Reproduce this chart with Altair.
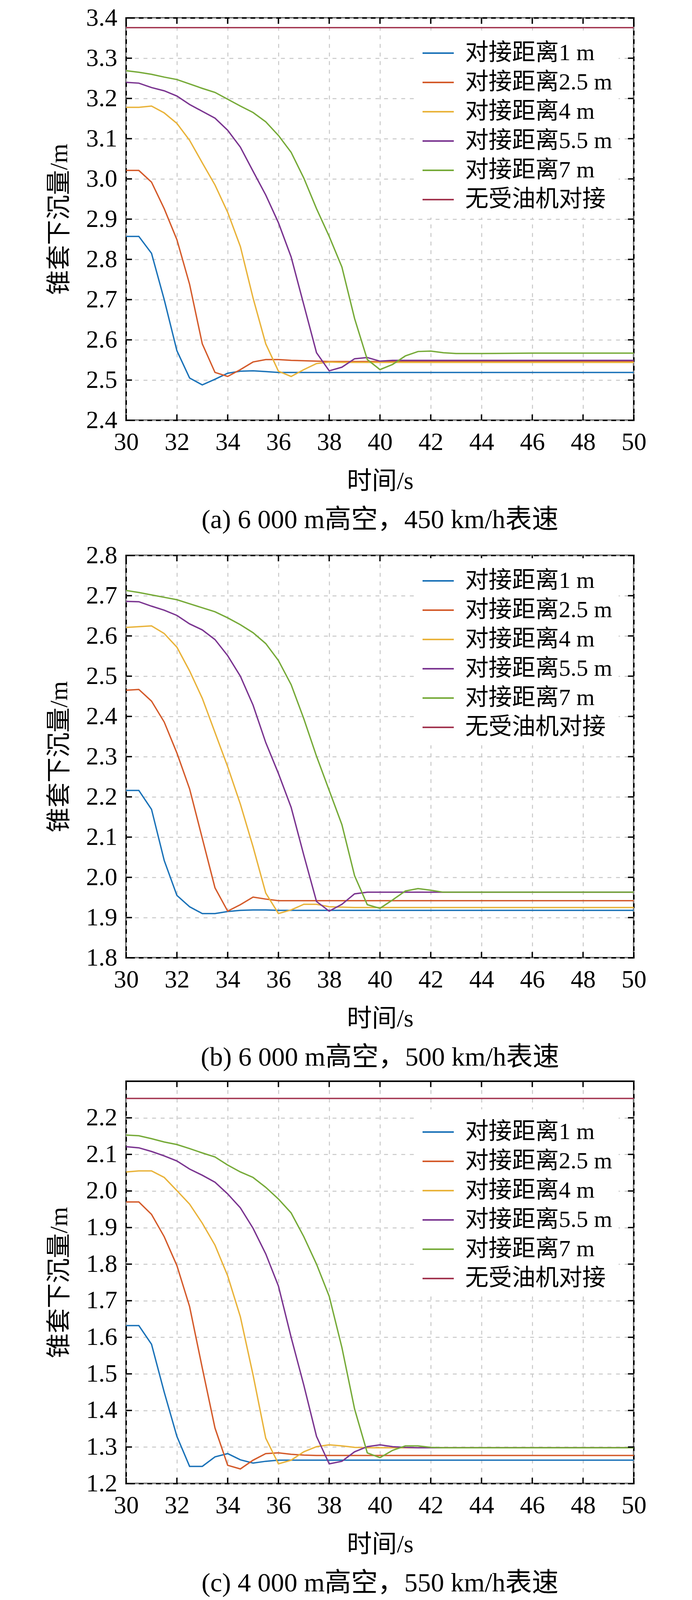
import altair as alt
import pandas as pd

# time samples (s)
T = [30, 30.5, 31, 31.5, 32, 32.5, 33, 33.5, 34, 34.5, 35, 35.5, 36, 36.5, 37, 37.5,
     38, 38.5, 39, 39.5, 40, 40.5, 41, 41.5, 42, 42.5, 43, 44, 46, 48, 50]

SERIES = ["对接距离1 m", "对接距离2.5 m", "对接距离4 m", "对接距离5.5 m", "对接距离7 m", "无受油机对接"]
COLORS = ["#1A72B8", "#D45A2A", "#E9B33A", "#7A3490", "#76AA38", "#A2344F"]
XTICKS = [30, 32, 34, 36, 38, 40, 42, 44, 46, 48, 50]

# (a) 6 000 m, 450 km/h
A1 = [2.857, 2.857, 2.815, 2.700, 2.573, 2.505, 2.488, 2.502, 2.517, 2.522, 2.523, 2.521,
      2.519, 2.519, 2.519, 2.519, 2.519, 2.519, 2.519, 2.519, 2.519, 2.519,
      2.519, 2.519, 2.519, 2.519, 2.519, 2.519, 2.519, 2.519, 2.519]
A2 = [3.021, 3.021, 2.992, 2.926, 2.849, 2.738, 2.590, 2.519, 2.509, 2.526, 2.545, 2.551,
      2.551, 2.549, 2.548, 2.547, 2.546, 2.546, 2.546, 2.546, 2.546, 2.546, 2.546, 2.546,
      2.546, 2.546, 2.546, 2.546, 2.546, 2.546, 2.546]
A3 = [3.178, 3.178, 3.181, 3.164, 3.138, 3.096, 3.040, 2.985, 2.917, 2.832, 2.704, 2.590,
      2.522, 2.509, 2.526, 2.541, 2.545, 2.544, 2.544, 2.544, 2.544, 2.544, 2.544, 2.544,
      2.544, 2.544, 2.544, 2.544, 2.544, 2.544, 2.544]
A4 = [3.240, 3.238, 3.227, 3.219, 3.206, 3.185, 3.168, 3.151, 3.121, 3.079, 3.019, 2.960,
      2.891, 2.806, 2.687, 2.568, 2.523, 2.532, 2.553, 2.556, 2.547, 2.549, 2.549, 2.549,
      2.549, 2.549, 2.549, 2.549, 2.549, 2.549, 2.549]
A5 = [3.269, 3.265, 3.260, 3.253, 3.247, 3.236, 3.225, 3.215, 3.198, 3.181, 3.165, 3.142,
      3.108, 3.066, 3.002, 2.926, 2.857, 2.781, 2.653, 2.551, 2.526, 2.539, 2.560, 2.571,
      2.572, 2.568, 2.566, 2.566, 2.567, 2.567, 2.567]
RED_T = [30, 50]
RED_A = [3.376, 3.376]

# (b) 6 000 m, 500 km/h
B1 = [2.216, 2.216, 2.169, 2.042, 1.955, 1.927, 1.910, 1.910, 1.915, 1.918, 1.919, 1.919,
      1.918, 1.918, 1.918, 1.918, 1.918, 1.918, 1.918, 1.918, 1.918, 1.918, 1.918, 1.918,
      1.918, 1.918, 1.918, 1.918, 1.918, 1.918, 1.918]
B2 = [2.465, 2.467, 2.438, 2.386, 2.309, 2.220, 2.097, 1.974, 1.916, 1.932, 1.951, 1.946,
      1.942, 1.942, 1.942, 1.942, 1.942, 1.942, 1.942, 1.942, 1.942, 1.942, 1.942, 1.942,
      1.942, 1.942, 1.942, 1.942, 1.942, 1.942, 1.942]
B3 = [2.621, 2.623, 2.625, 2.606, 2.572, 2.513, 2.445, 2.360, 2.275, 2.182, 2.076, 1.961,
      1.910, 1.919, 1.933, 1.933, 1.927, 1.926, 1.925, 1.925, 1.925, 1.925, 1.925, 1.925,
      1.925, 1.925, 1.925, 1.925, 1.925, 1.925, 1.925]
B4 = [2.686, 2.685, 2.674, 2.664, 2.651, 2.630, 2.615, 2.591, 2.551, 2.500, 2.428, 2.335,
      2.258, 2.174, 2.055, 1.940, 1.916, 1.933, 1.959, 1.963, 1.963, 1.963, 1.963, 1.963,
      1.963, 1.963, 1.963, 1.963, 1.963, 1.963, 1.963]
B5 = [2.713, 2.708, 2.702, 2.696, 2.690, 2.680, 2.670, 2.660, 2.645, 2.628, 2.608, 2.581,
      2.539, 2.479, 2.394, 2.301, 2.216, 2.131, 2.004, 1.932, 1.923, 1.944, 1.966, 1.972,
      1.968, 1.963, 1.963, 1.963, 1.963, 1.963, 1.963]

# (c) 4 000 m, 550 km/h
C1 = [1.632, 1.632, 1.581, 1.450, 1.329, 1.247, 1.247, 1.273, 1.282, 1.265, 1.256, 1.261,
      1.264, 1.264, 1.264, 1.264, 1.264, 1.264, 1.264, 1.264, 1.264, 1.264, 1.264, 1.264,
      1.264, 1.264, 1.264, 1.264, 1.264, 1.264, 1.264]
C2 = [1.970, 1.970, 1.936, 1.875, 1.796, 1.684, 1.516, 1.352, 1.250, 1.240, 1.264, 1.282,
      1.284, 1.280, 1.278, 1.277, 1.277, 1.277, 1.277, 1.277, 1.277, 1.277, 1.277, 1.277,
      1.277, 1.277, 1.277, 1.277, 1.277, 1.277, 1.277]
C3 = [2.052, 2.055, 2.055, 2.037, 2.001, 1.964, 1.912, 1.852, 1.768, 1.656, 1.497, 1.324,
      1.254, 1.264, 1.287, 1.301, 1.306, 1.303, 1.299, 1.298, 1.298, 1.298, 1.298, 1.298,
      1.298, 1.298, 1.298, 1.298, 1.298, 1.298, 1.298]
C4 = [2.121, 2.118, 2.108, 2.096, 2.082, 2.060, 2.043, 2.024, 1.992, 1.954, 1.898, 1.828,
      1.740, 1.600, 1.469, 1.329, 1.254, 1.261, 1.287, 1.301, 1.306, 1.301, 1.299, 1.298,
      1.298, 1.298, 1.298, 1.298, 1.298, 1.298, 1.298]
C5 = [2.153, 2.151, 2.143, 2.134, 2.127, 2.116, 2.104, 2.093, 2.071, 2.052, 2.037, 2.010,
      1.978, 1.940, 1.875, 1.800, 1.712, 1.572, 1.404, 1.284, 1.271, 1.291, 1.303, 1.303,
      1.299, 1.298, 1.298, 1.298, 1.298, 1.298, 1.298]
RED_C = [2.253, 2.253]

for s in [A1, A2, A3, A4, A5, B1, B2, B3, B4, B5, C1, C2, C3, C4, C5]:
    assert len(s) == len(T)

FONT = "Liberation Serif, Noto Sans CJK SC"
W, H = 1300, 1030
TICK = 15


def panel(curves, red, y_dom, y_ticks, caption, leg_y):
    rows = []
    for name, vals in zip(SERIES, curves):
        rows += [{"t": t, "v": v, "s": name} for t, v in zip(T, vals)]
    if red:
        rows += [{"t": t, "v": v, "s": SERIES[5]} for t, v in zip(RED_T, red)]
    df = pd.DataFrame(rows)

    xs = alt.Scale(domain=[30, 50], nice=False, zero=False)
    ys = alt.Scale(domain=y_dom, nice=False, zero=False)
    common = dict(labelFont=FONT, titleFont=FONT, labelFontSize=64, titleFontSize=64,
                  labelFlush=False, labelColor="black", titleColor="black",
                  titleFontWeight="normal")
    xax = alt.Axis(values=XTICKS, title="时间/s", labelPadding=24, titlePadding=36, **common)
    yax = alt.Axis(values=y_ticks, format=".1f", title="锥套下沉量/m",
                   labelPadding=23, titlePadding=36, **common)

    lines = alt.Chart(df).mark_line(strokeWidth=3.5).encode(
        x=alt.X("t:Q", scale=xs, axis=xax),
        y=alt.Y("v:Q", scale=ys, axis=yax),
        color=alt.Color("s:N", scale=alt.Scale(domain=SERIES, range=COLORS),
                        legend=alt.Legend(title=None, orient="none", legendX=741, legendY=leg_y,
                                          fillColor="white", padding=16, labelFont=FONT,
                                          labelFontSize=60, labelLimit=900, labelOffset=27,
                                          symbolType="stroke", symbolSize=6400,
                                          symbolStrokeWidth=4, rowPadding=3)),
    )

    xt = pd.DataFrame({"t": XTICKS})
    yt = pd.DataFrame({"v": y_ticks})
    rule = dict(color="black", strokeWidth=3.5)
    top = alt.Chart(xt).mark_rule(**rule).encode(
        x=alt.X("t:Q", scale=xs, axis=xax), y=alt.value(0), y2=alt.value(TICK))
    bottom = alt.Chart(xt).mark_rule(**rule).encode(
        x=alt.X("t:Q", scale=xs, axis=xax), y=alt.value(H), y2=alt.value(H - TICK))
    left = alt.Chart(yt).mark_rule(**rule).encode(
        y=alt.Y("v:Q", scale=ys, axis=yax), x=alt.value(0), x2=alt.value(TICK))
    right = alt.Chart(yt).mark_rule(**rule).encode(
        y=alt.Y("v:Q", scale=ys, axis=yax), x=alt.value(W), x2=alt.value(W - TICK))

    return alt.layer(lines, top, bottom, left, right).properties(
        width=W, height=H,
        title=alt.Title(caption, orient="bottom", anchor="middle", frame="group",
                        font=FONT, fontSize=68, fontWeight="normal", color="black", offset=34),
    )


pa = panel([A1, A2, A3, A4, A5], RED_A, [2.4, 3.4],
           [2.4, 2.5, 2.6, 2.7, 2.8, 2.9, 3.0, 3.1, 3.2, 3.3, 3.4],
           "(a) 6 000 m高空，450 km/h表速", 32)
pb = panel([B1, B2, B3, B4, B5], None, [1.8, 2.8],
           [1.8, 1.9, 2.0, 2.1, 2.2, 2.3, 2.4, 2.5, 2.6, 2.7, 2.8],
           "(b) 6 000 m高空，500 km/h表速", 7)
pc = panel([C1, C2, C3, C4, C5], RED_C, [1.2, 2.3],
           [1.2, 1.3, 1.4, 1.5, 1.6, 1.7, 1.8, 1.9, 2.0, 2.1, 2.2],
           "(c) 4 000 m高空，550 km/h表速", 72)

chart = alt.vconcat(pa, pb, pc, spacing=20).resolve_scale(
    color="independent"
).resolve_legend(
    color="independent"
).properties(
    padding={"left": 110, "top": 4, "right": 20, "bottom": 0},
    background="white",
).configure_view(
    stroke="black", strokeWidth=4
).configure_axis(
    domain=False, ticks=False, tickSize=0,
    grid=True, gridColor="#c8c8c8", gridDash=[10, 12], gridWidth=2.5,
)

chart.save("out.html", embed_options={"renderer": "svg", "actions": False})
